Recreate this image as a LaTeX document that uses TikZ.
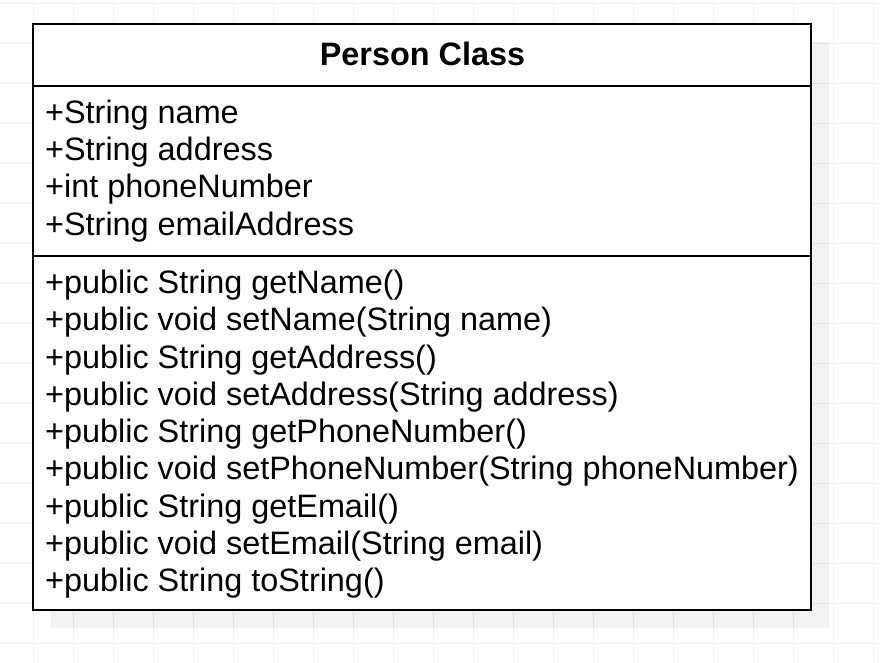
\documentclass[tikz,border=0pt]{standalone}
\usepackage{fontspec}
\setmainfont{Liberation Sans}
\definecolor{gridgray}{RGB}{239,239,239}
\begin{document}
\begin{tikzpicture}[x=1pt,y=-1pt,
  gridline/.style={draw=gridgray,line width=1pt},
  boxline/.style={draw=black,line width=2pt},
  member/.style={inner sep=0pt,anchor=base west,font=\fontsize{32.4}{37}\selectfont},
  title/.style={inner sep=0pt,anchor=base,font=\fontsize{32.4}{37}\selectfont\bfseries}]
  % canvas and background grid
  \fill[white] (0,0) rectangle (880,662);
  \useasboundingbox (0,0) rectangle (880,662);
  \foreach \gx in {33,73,...,873} \draw[gridline] (\gx,0) -- (\gx,662);
  \foreach \gy in {3.5,43.5,...,643.5} \draw[gridline] (0,\gy) -- (880,\gy);
  % drop shadow
  \fill[black,opacity=0.05] (51,42) rectangle (829,628);
  % class box
  \node (cls) [boxline,fill=white,inner sep=0pt,outer sep=0pt,
    minimum width=778pt,minimum height=586pt] at (422,317) {};
  \coordinate (d1w) at (33,86);   \coordinate (d1e) at (811,86);
  \coordinate (d2w) at (33,256);  \coordinate (d2e) at (811,256);
  \draw[boxline] (d1w) -- (d1e);
  \draw[boxline] (d2w) -- (d2e);
  % header
  \node (name) [title] at (422.5,65) {Person Class};
  % attributes
  \node (a1) [member] at (45,123.3) {+String name};
  \node (a2) [member] at (45,160.6) {+String address};
  \node (a3) [member] at (45,197.9) {+int phoneNumber};
  \node (a4) [member] at (45,235.2) {+String emailAddress};
  % operations
  \node (m1) [member] at (45,293.5) {+public String getName()};
  \node (m2) [member] at (45,330.8) {+public void setName(String name)};
  \node (m3) [member] at (45,368.0) {+public String getAddress()};
  \node (m4) [member] at (45,405.3) {+public void setAddress(String address)};
  \node (m5) [member] at (45,442.6) {+public String getPhoneNumber()};
  \node (m6) [member] at (45,479.9) {+public void setPhoneNumber(String phoneNumber)};
  \node (m7) [member] at (45,517.1) {+public String getEmail()};
  \node (m8) [member] at (45,554.4) {+public void setEmail(String email)};
  \node (m9) [member] at (45,591.7) {+public String toString()};
\end{tikzpicture}
\end{document}
